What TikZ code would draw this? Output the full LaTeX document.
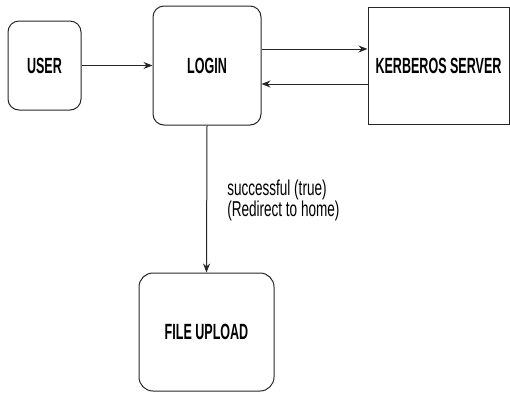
\documentclass[tikz,border=0pt]{standalone}
\usepackage{fontspec}
\setmainfont{Liberation Sans}
\newfontfamily\boxfont[FakeStretch=0.57]{Liberation Sans Bold}
\newfontfamily\labfont[FakeStretch=0.63]{Liberation Sans}
\usetikzlibrary{arrows.meta}
\begin{document}
\begin{tikzpicture}[x=1pt,y=-1pt,
  box/.style={draw=black!85, line width=1pt, inner sep=0pt,
    font=\boxfont\fontsize{22}{24}\selectfont},
  rbox/.style={box, rounded corners=11pt},
  conn/.style={draw=black!85, line width=1pt, -{Stealth[length=9pt,width=7pt]}},
  lab/.style={font=\labfont\fontsize{21.5}{21}\selectfont, align=left, inner sep=0pt}]
\useasboundingbox (0,0) rectangle (510,392);
\node[rbox, minimum width=73pt, minimum height=89pt] (user) at (44.5,65.5) {USER};
\node[rbox, minimum width=108pt, minimum height=119pt] (login) at (207,65.5) {LOGIN};
\node[box, minimum width=141pt, minimum height=117pt] (kerb) at (438.5,65.5) {KERBEROS SERVER};
\node[rbox, rounded corners=14pt, minimum width=135pt, minimum height=118pt] (upload) at (206.5,332) {FILE UPLOAD};
\draw[conn] (user.east) -- (login.west);
\draw[conn] ([yshift=16.5pt]login.east) -- ([yshift=16.5pt]kerb.west);
\draw[conn] ([yshift=-18.5pt]kerb.west) -- ([yshift=-18.5pt]login.east);
\draw[conn] (login.south) -- node[lab, anchor=west, xshift=20pt, yshift=-1.75pt] {successful (true)\\(Redirect to home)} (upload.north);
\end{tikzpicture}
\end{document}
